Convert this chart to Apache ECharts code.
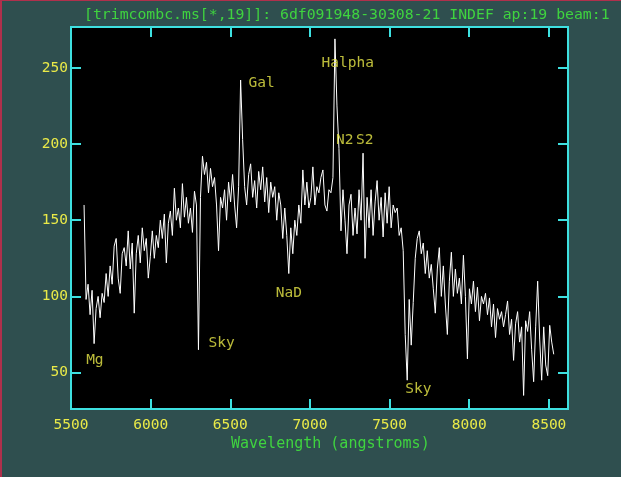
<!DOCTYPE html>
<html>
<head>
<meta charset="utf-8">
<script src="https://cdn.jsdelivr.net/npm/echarts@6/dist/echarts.min.js"></script>
<style>
  html, body { margin: 0; padding: 0; background: #2f4f4f; }
  #chart { width: 619px; height: 476px; border-left: 2px solid #b0304c; border-top: 1px solid #b0304c; }
</style>
</head>
<body>
<div id="chart"></div>
<script>
// Spectrum samples (flux), regularly spaced in wavelength
const startWavelength = 5582;
const wavelengthStep = 12.6;
const flux = [
  160, 98, 108, 88, 104, 69, 92, 100, 86, 102,
  96, 115, 100, 120, 108, 133, 138, 112, 102, 128,
  132, 120, 143, 118, 135, 89, 128, 140, 122, 145,
  130, 138, 112, 126, 143, 125, 140, 132, 150, 138,
  154, 122, 148, 156, 140, 171, 150, 158, 145, 174,
  152, 165, 148, 158, 142, 169, 160, 65, 165, 192,
  180, 188, 168, 184, 172, 178, 160, 130, 165, 158,
  170, 150, 175, 162, 180, 160, 145, 172, 242, 203,
  172, 160, 180, 187, 165, 176, 158, 182, 170, 185,
  162, 178, 155, 175, 165, 172, 150, 168, 160, 138,
  158, 140, 115, 145, 128, 150, 140, 160, 148, 183,
  160, 175, 158, 165, 185, 160, 172, 168, 178, 183,
  160, 156, 170, 168, 178, 269, 225, 197, 143, 170,
  150, 128, 160, 167, 140, 158, 141, 170, 150, 194,
  125, 165, 145, 170, 140, 162, 176, 150, 165, 139,
  168, 148, 172, 145, 160, 155, 158, 140, 145, 130,
  75, 45, 98, 68, 96, 125, 138, 143, 128, 135,
  115, 130, 112, 121, 105, 89, 118, 132, 100, 120,
  95, 75, 110, 129, 100, 118, 102, 112, 95, 127,
  100, 59, 105, 95, 110, 90, 106, 84, 100, 95,
  102, 88, 99, 80, 95, 73, 92, 85, 90, 80,
  88, 97, 75, 85, 58, 82, 90, 70, 80, 35,
  84, 77, 90, 65, 44, 80, 110, 72, 45, 80,
  55, 48, 81, 70, 62
];
const xTicks = [5500, 6000, 6500, 7000, 7500, 8000, 8500];
const yTicks = [50, 100, 150, 200, 250];
const annotationNames = ['Mg', 'Sky', 'NaD', 'Gal', 'Halpha', 'N2', 'S2', 'Sky'];
const annotationX = [5595, 6363, 6785, 6615, 7073, 7163, 7289, 7598];
const annotationY = [58.4, 69, 101.8, 240, 253, 202.4, 202.4, 39.3];
const titleText = '[trimcombc.ms[*,19]]: 6df091948-30308-21 INDEF ap:19 beam:1';
const xName = 'Wavelength (angstroms)';

const xMin = 5500, xMax = 8620, yMin = 26.1, yMax = 276.8;

const seriesData = flux.map((v, i) => [startWavelength + wavelengthStep * i, v]);
const annData = annotationNames.map((n, i) => ({ name: n, value: [annotationX[i], annotationY[i]] }));

const FONT = 'DejaVu Sans Mono';
const YEL = '#eaea48';
const GRN = '#3fd43f';
const CYAN = '#3ee0e0';

const chart = echarts.init(document.getElementById('chart'), null, { renderer: 'canvas' });
const tickCommon = { show: true, inside: true, length: 10, lineStyle: { color: CYAN, width: 2 } };
chart.setOption({
  backgroundColor: '#2f4f4f',
  animation: false,
  title: [
    { text: titleText, left: 82, top: 7, padding: 0, textStyle: { color: GRN, fontFamily: FONT, fontSize: 14.8, fontWeight: 'normal' } },
    { text: xName, left: 229, top: 436, padding: 0, textStyle: { color: GRN, fontFamily: FONT, fontSize: 15, fontWeight: 'normal' } }
  ],
  grid: { left: 69, top: 26, right: 53, bottom: 68, show: true, backgroundColor: '#000', borderColor: CYAN, borderWidth: 2, containLabel: false },
  xAxis: [
    { type: 'value', min: xMin, max: xMax, position: 'bottom',
      axisLine: { show: false }, splitLine: { show: false },
      axisTick: Object.assign({ customValues: xTicks }, tickCommon),
      axisLabel: { customValues: xTicks, formatter: v => String(v), color: YEL, fontFamily: FONT, fontSize: 14.5, margin: 9 } },
    { type: 'value', min: xMin, max: xMax, position: 'top',
      axisLine: { show: false }, splitLine: { show: false },
      axisTick: Object.assign({ customValues: xTicks }, tickCommon),
      axisLabel: { show: false } }
  ],
  yAxis: [
    { type: 'value', min: yMin, max: yMax, position: 'left',
      axisLine: { show: false }, splitLine: { show: false },
      axisTick: Object.assign({ customValues: yTicks }, tickCommon),
      axisLabel: { customValues: yTicks, formatter: v => String(v), color: YEL, fontFamily: FONT, fontSize: 14.5, margin: 3 } },
    { type: 'value', min: yMin, max: yMax, position: 'right',
      axisLine: { show: false }, splitLine: { show: false },
      axisTick: Object.assign({ customValues: yTicks }, tickCommon),
      axisLabel: { show: false } }
  ],
  series: [
    { type: 'line', data: seriesData, showSymbol: false, symbol: 'none',
      lineStyle: { color: '#ffffff', width: 1 }, silent: true, clip: true },
    { type: 'scatter', data: annData, symbolSize: 0, silent: true, z: 5,
      label: { show: true, position: [0, 0], align: 'left', verticalAlign: 'middle',
        formatter: p => p.name, color: YEL, fontFamily: FONT, fontSize: 14.5 } }
  ]
});
</script>
</body>
</html>
